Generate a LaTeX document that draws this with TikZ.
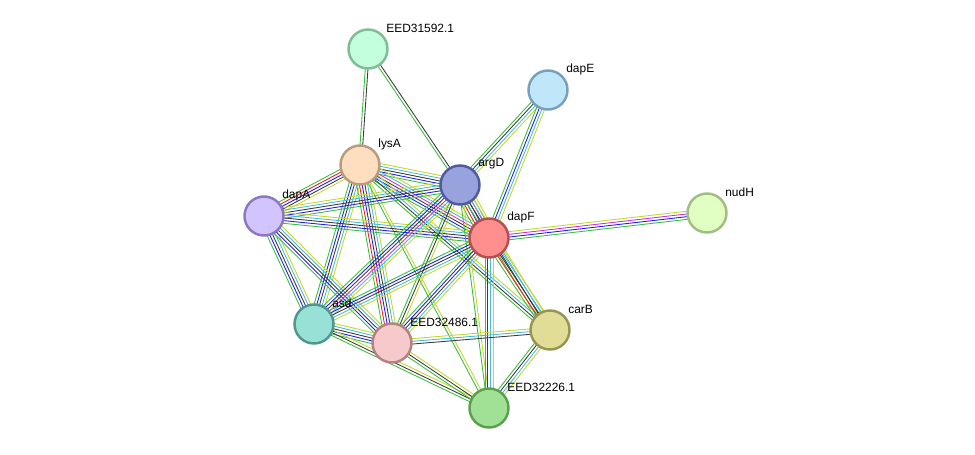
\documentclass[tikz,border=0pt]{standalone}
\usepackage{fontspec}
\setmainfont{Liberation Sans}
\usetikzlibrary{positioning, backgrounds, calc}

% edge colours
\definecolor{sgreen}{RGB}{60,190,60}
\definecolor{sred}{RGB}{245,30,30}
\definecolor{sblue}{RGB}{30,30,245}
\definecolor{sblack}{RGB}{60,60,60}
\definecolor{smagenta}{RGB}{210,50,210}
\definecolor{scyan}{RGB}{70,185,225}
\definecolor{syellow}{RGB}{195,215,45}

% one link = a bundle of parallel coloured lines
\newcommand{\link}[3]{%
  \foreach \c [count=\n] in {#3} {\xdef\nlines{\n}}%
  \foreach \c [count=\i] in {#3} {%
    \pgfmathsetmacro{\off}{(\i-(\nlines+1)/2)*0.054}%
    \draw[edge=\c] ($(#1)!\off cm!90:(#2)$) -- ($(#2)!\off cm!-90:(#1)$);
  }}

\begin{document}
\begin{tikzpicture}[
    edge/.style={draw=#1, line width=0.5pt},
    prot/.style={circle, minimum size=0.78cm, inner sep=0pt, line width=1.4pt},
    lbl/.style={anchor=west, inner sep=0pt, font=\fontsize{6.8}{8}\selectfont}
]
\useasboundingbox (0,0) rectangle (19.5,9.08);
\node[prot, draw={rgb,255:red,125;green,190;blue,150}, fill={rgb,255:red,195;green,255;blue,220}] (EEDa) at (7.36, 8.10) {};
\node[prot, draw={rgb,255:red,120;green,160;blue,190}, fill={rgb,255:red,192;green,230;blue,250}] (dapE) at (10.96, 7.28) {};
\node[prot, draw={rgb,255:red,185;green,155;blue,125}, fill={rgb,255:red,255;green,222;blue,192}] (lysA) at (7.20, 5.78) {};
\node[prot, draw={rgb,255:red,80;green,90;blue,160}, fill={rgb,255:red,152;green,162;blue,220}] (argD) at (9.20, 5.38) {};
\node[prot, draw={rgb,255:red,140;green,120;blue,190}, fill={rgb,255:red,210;green,196;blue,255}] (dapA) at (5.28, 4.76) {};
\node[prot, draw={rgb,255:red,180;green,80;blue,80}, fill={rgb,255:red,255;green,142;blue,142}] (dapF) at (9.78, 4.32) {};
\node[prot, draw={rgb,255:red,160;green,190;blue,130}, fill={rgb,255:red,225;green,255;blue,195}] (nudH) at (14.14, 4.82) {};
\node[prot, draw={rgb,255:red,80;green,150;blue,140}, fill={rgb,255:red,152;green,225;blue,215}] (asd) at (6.28, 2.60) {};
\node[prot, draw={rgb,255:red,180;green,130;blue,130}, fill={rgb,255:red,246;green,202;blue,202}] (EEDb) at (7.84, 2.22) {};
\node[prot, draw={rgb,255:red,150;green,150;blue,80}, fill={rgb,255:red,225;green,220;blue,150}] (carB) at (11.00, 2.48) {};
\node[prot, draw={rgb,255:red,90;green,160;blue,80}, fill={rgb,255:red,160;green,225;blue,150}] (EEDc) at (9.78, 0.92) {};
% labels
\node[lbl] (EEDaL) at ($(EEDa)+(0.36,0.42)$) {EED31592.1};
\node[lbl] (dapEL) at ($(dapE)+(0.36,0.42)$) {dapE};
\node[lbl] (lysAL) at ($(lysA)+(0.36,0.42)$) {lysA};
\node[lbl] (argDL) at ($(argD)+(0.36,0.42)$) {argD};
\node[lbl] (dapAL) at ($(dapA)+(0.36,0.42)$) {dapA};
\node[lbl] (dapFL) at ($(dapF)+(0.36,0.42)$) {dapF};
\node[lbl] (nudHL) at ($(nudH)+(0.36,0.42)$) {nudH};
\node[lbl] (asdL) at ($(asd)+(0.36,0.42)$) {asd};
\node[lbl] (EEDbL) at ($(EEDb)+(0.36,0.42)$) {EED32486.1};
\node[lbl] (carBL) at ($(carB)+(0.36,0.42)$) {carB};
\node[lbl] (EEDcL) at ($(EEDc)+(0.36,0.42)$) {EED32226.1};
\begin{scope}[on background layer]
\link{EEDa}{lysA}{sgreen,sblack}
\link{EEDa}{argD}{sgreen,sblack}
\link{dapE}{argD}{sgreen,sblack,scyan,syellow}
\link{dapE}{dapF}{sgreen,sblue,scyan,syellow}
\link{dapF}{nudH}{sgreen,sblue,smagenta,syellow}
\link{lysA}{dapA}{sgreen,sred,sblue,sblack,syellow}
\link{lysA}{argD}{sgreen,sblue,sblack,scyan,syellow}
\link{lysA}{dapF}{sgreen,sblue,sblack,smagenta,scyan,syellow}
\link{lysA}{asd}{sgreen,sblue,sblack,scyan,syellow}
\link{lysA}{EEDb}{sgreen,sred,sblue,sblack,scyan,syellow}
\link{lysA}{carB}{sgreen,sblack,scyan,syellow}
\link{lysA}{EEDc}{sgreen,syellow}
\link{dapA}{argD}{sgreen,sblue,sblack,scyan,syellow}
\link{dapA}{dapF}{sgreen,sblue,sblack,scyan,syellow}
\link{dapA}{asd}{sgreen,sblue,sblack,scyan,syellow}
\link{dapA}{EEDb}{sgreen,sblue,sblack,scyan,syellow}
\link{argD}{dapF}{sgreen,sred,sblue,sblack,smagenta,scyan,syellow}
\link{argD}{asd}{sgreen,sblue,sblack,smagenta,scyan,syellow}
\link{argD}{EEDb}{sgreen,sblack,syellow}
\link{argD}{carB}{sgreen,sblack,scyan,syellow}
\link{argD}{EEDc}{sgreen,syellow}
\link{dapF}{asd}{sgreen,sblue,sblack,scyan,syellow}
\link{dapF}{EEDb}{sgreen,sblue,sblack,scyan,syellow}
\link{dapF}{carB}{sgreen,sred,sblack,scyan,syellow}
\link{dapF}{EEDc}{sgreen,sblack,scyan,syellow}
\link{asd}{EEDb}{sgreen,sblue,sblack,scyan,syellow}
\link{asd}{EEDc}{sgreen,sblack,syellow}
\link{EEDb}{carB}{sblack,scyan,syellow}
\link{EEDb}{EEDc}{sgreen,sblack,syellow}
\link{carB}{EEDc}{sgreen,sblack,scyan,syellow}
\end{scope}
\end{tikzpicture}
\end{document}
